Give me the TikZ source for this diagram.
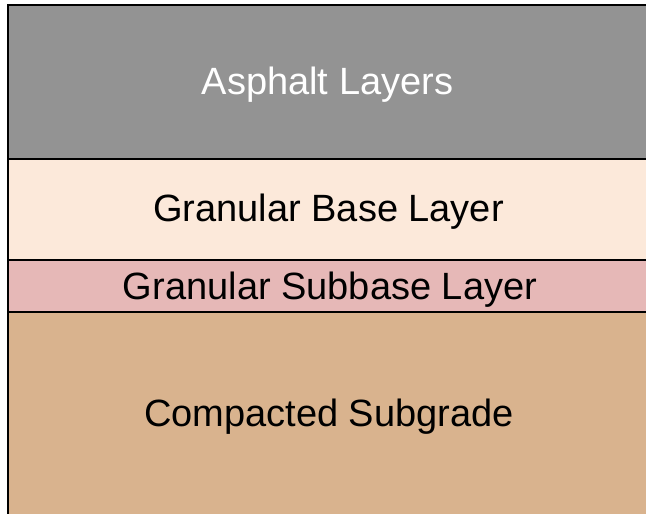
\documentclass[tikz,border=0pt]{standalone}
\usepackage{fontspec}
\setmainfont{Liberation Sans}
\definecolor{asphalt}{HTML}{939393}
\definecolor{base}{HTML}{FCE9DA}
\definecolor{subbase}{HTML}{E6B8B7}
\definecolor{subgrade}{HTML}{D9B38E}
\tikzset{
  layertext/.style={font=\fontsize{38}{42}\selectfont, inner sep=0pt, anchor=base},
  edge/.style={line width=2.2pt, black}
}
\begin{document}
\begin{tikzpicture}[x=1pt,y=-1pt]
\useasboundingbox (0,0) rectangle (646,514);
\fill[white] (0,0) rectangle (646,514);
\fill[asphalt] (8,5) rectangle (646,159);
\fill[base] (8,159) rectangle (646,260);
\fill[subbase] (8,260) rectangle (646,312);
\fill[subgrade] (8,312) rectangle (646,514);
\draw[edge] (8,514) -- (8,5) -- (646,5);
\draw[edge] (8,159) -- (646,159);
\draw[edge] (8,260) -- (646,260);
\draw[edge] (8,312) -- (646,312);
\node[layertext, text=white] (asph) at (327.5,94.3) {Asphalt Layers};
\node[layertext] (gbase) at (328.5,221) {Granular Base Layer};
\node[layertext] (gsub) at (330,299) {Granular Subbase Layer};
\node[layertext] (csub) at (329,426) {Compacted Subgrade};
\end{tikzpicture}
\end{document}
